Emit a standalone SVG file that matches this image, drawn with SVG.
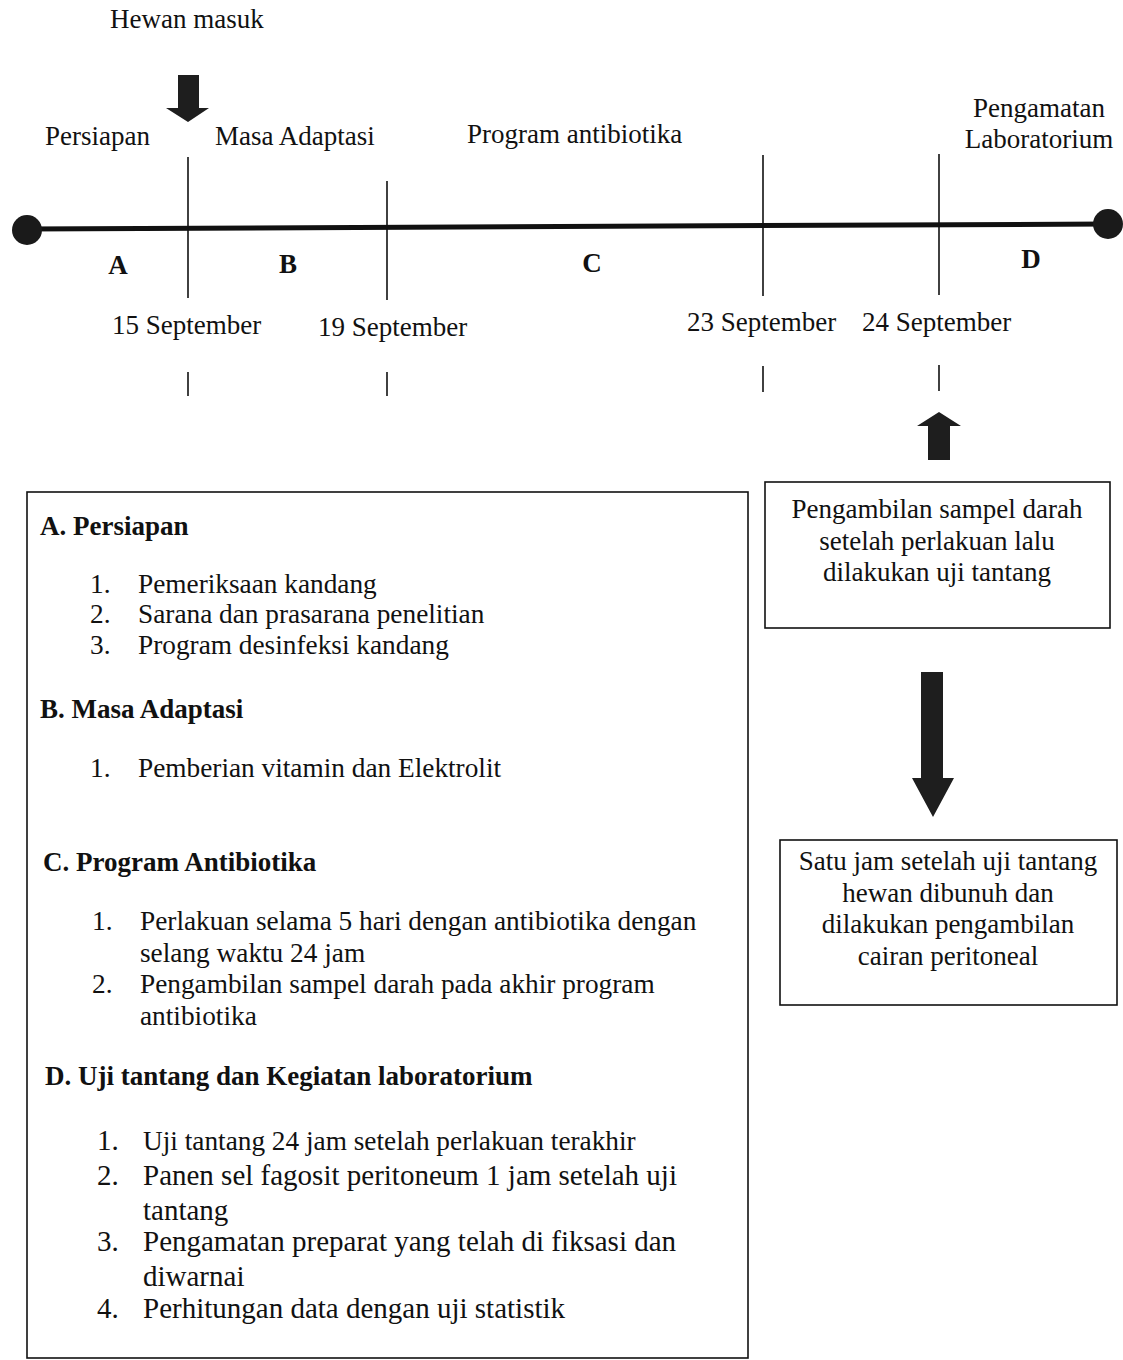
<svg xmlns="http://www.w3.org/2000/svg" width="1123" height="1360" viewBox="0 0 1123 1360">
<style>
text{font-family:"Liberation Serif","Times New Roman",serif;font-size:27px;fill:#111}
.b{font-weight:bold}
.c{text-anchor:middle}
.l{font-size:27.3px}
.d{font-size:29px}
.tick{stroke:#111;stroke-width:1.6;fill:none}
.box{stroke:#111;stroke-width:1.6;fill:none}
.arr{fill:#1e1e1e}
</style>
<rect width="1123" height="1360" fill="#fff"/>
<g id="timeline">
<line x1="27" y1="229" x2="1108" y2="224" stroke="#111" stroke-width="5"/>
<circle cx="27" cy="230" r="15" fill="#1a1a1a"/>
<circle cx="1108" cy="224" r="15" fill="#1a1a1a"/>
<line class="tick" x1="188" y1="157" x2="188" y2="298"/>
<line class="tick" x1="387" y1="181" x2="387" y2="300"/>
<line class="tick" x1="763" y1="155" x2="763" y2="296"/>
<line class="tick" x1="939" y1="154" x2="939" y2="295"/>
<line class="tick" x1="188" y1="372" x2="188" y2="396"/>
<line class="tick" x1="387" y1="372" x2="387" y2="396"/>
<line class="tick" x1="763" y1="366" x2="763" y2="392"/>
<line class="tick" x1="939" y1="365" x2="939" y2="391"/>
<text x="110" y="28">Hewan masuk</text>
<text x="45" y="145">Persiapan</text>
<text x="215" y="145">Masa Adaptasi</text>
<text x="467" y="143">Program antibiotika</text>
<text class="c" x="1039" y="117">Pengamatan</text>
<text class="c" x="1039" y="148">Laboratorium</text>
<text class="b c" x="118" y="274">A</text>
<text class="b c" x="288" y="273">B</text>
<text class="b c" x="592" y="272">C</text>
<text class="b c" x="1031" y="268">D</text>
<text x="112" y="334">15 September</text>
<text x="318" y="336">19 September</text>
<text x="687" y="331">23 September</text>
<text x="862" y="331">24 September</text>
</g>
<g id="connectors">
<polygon class="arr" points="178,75 199,75 199,108 209,108 188,122 166,108 178,108"/>
<polygon class="arr" points="939,412 961,426 950,426 950,460 928,460 928,426 917,426"/>
<polygon class="arr" points="921,672 943,672 943,778 954,778 933,817 912,778 921,778"/>
</g>
<g id="box-sampel">
<rect class="box" x="765" y="482" width="345" height="146"/>
<text class="c" x="937" y="518">Pengambilan sampel darah</text>
<text class="c" x="937" y="550">setelah perlakuan lalu</text>
<text class="c" x="937" y="581">dilakukan uji tantang</text>
</g>
<g id="box-peritoneal">
<rect class="box" x="780" y="840" width="337" height="165"/>
<text class="c" x="948" y="870">Satu jam setelah uji tantang</text>
<text class="c" x="948" y="902">hewan dibunuh dan</text>
<text class="c" x="948" y="933">dilakukan pengambilan</text>
<text class="c" x="948" y="965">cairan peritoneal</text>
</g>
<g id="box-kegiatan">
<rect class="box" x="27" y="492" width="721" height="866"/>
<text class="b" x="40" y="535">A. Persiapan</text>
<text class="l" x="90" y="593">1.</text><text class="l" x="138" y="593">Pemeriksaan kandang</text>
<text class="l" x="90" y="623">2.</text><text class="l" x="138" y="623">Sarana dan prasarana penelitian</text>
<text class="l" x="90" y="654">3.</text><text class="l" x="138" y="654">Program desinfeksi kandang</text>
<text class="b" x="40" y="718">B. Masa Adaptasi</text>
<text class="l" x="90" y="777">1.</text><text class="l" x="138" y="777">Pemberian vitamin dan Elektrolit</text>
<text class="b" x="43" y="871">C. Program Antibiotika</text>
<text class="l" x="92" y="930">1.</text><text class="l" x="140" y="930">Perlakuan selama 5 hari dengan antibiotika dengan</text>
<text class="l" x="140" y="962">selang waktu 24 jam</text>
<text class="l" x="92" y="993">2.</text><text class="l" x="140" y="993">Pengambilan sampel darah pada akhir program</text>
<text class="l" x="140" y="1025">antibiotika</text>
<text class="b" x="45" y="1085">D. Uji tantang dan Kegiatan laboratorium</text>
<text class="d" x="97" y="1150">1.</text><text class="l" x="143" y="1150">Uji tantang 24 jam setelah perlakuan terakhir</text>
<text class="d" x="97" y="1185">2.</text><text class="d" x="143" y="1185">Panen sel fagosit peritoneum 1 jam setelah uji</text>
<text class="d" x="143" y="1220">tantang</text>
<text class="d" x="97" y="1251">3.</text><text class="d" x="143" y="1251">Pengamatan preparat yang telah di fiksasi dan</text>
<text class="d" x="143" y="1286">diwarnai</text>
<text class="d" x="97" y="1318">4.</text><text class="d" x="143" y="1318">Perhitungan data dengan uji statistik</text>
</g>
</svg>
